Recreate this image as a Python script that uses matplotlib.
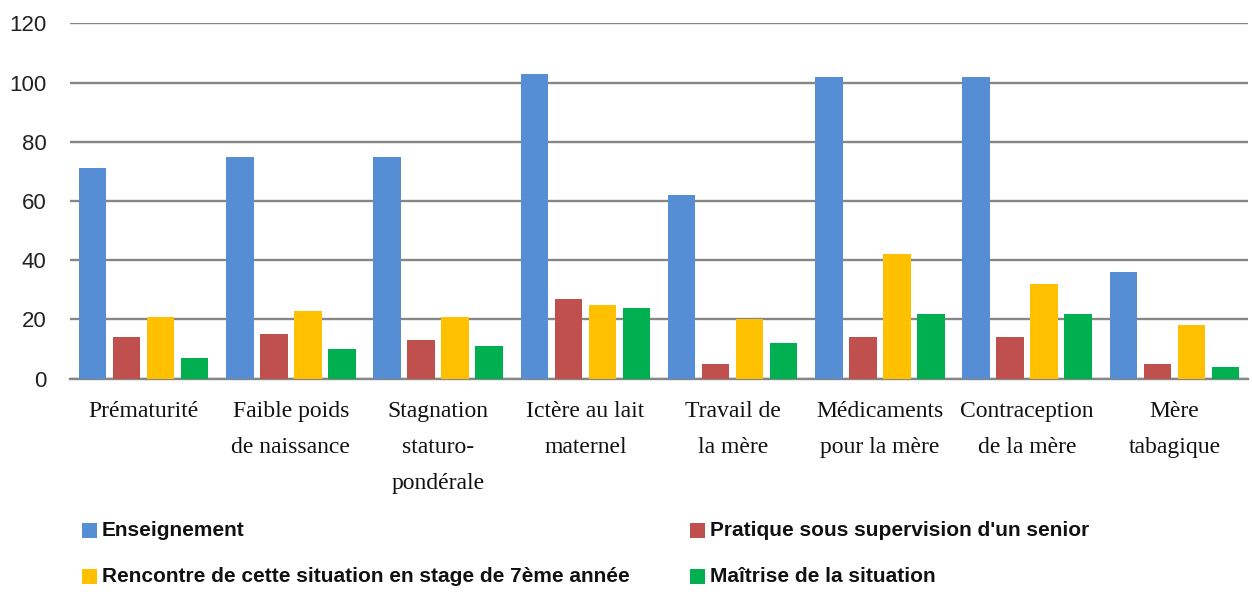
import matplotlib
matplotlib.use("Agg")
import matplotlib.pyplot as plt
import numpy as np
from matplotlib.patches import Rectangle

categories = ["Prématurité", "Faible poids\nde naissance", "Stagnation\nstaturo-\npondérale",
              "Ictère au lait\nmaternel", "Travail de\nla mère", "Médicaments\npour la mère",
              "Contraception\nde la mère", "Mère\ntabagique"]
series_names = ["Enseignement", "Pratique sous supervision d'un senior",
                "Rencontre de cette situation en stage de 7ème année", "Maîtrise de la situation"]
enseignement = [71, 75, 75, 103, 62, 102, 102, 36]
pratique = [14, 15, 13, 27, 5, 14, 14, 5]
rencontre = [21, 23, 21, 25, 20, 42, 32, 18]
maitrise = [7, 10, 11, 24, 12, 22, 22, 4]
yticks = [0, 20, 40, 60, 80, 100, 120]

colors = ["#558ED5", "#C0504D", "#FFC000", "#00B050"]
values = [enseignement, pratique, rencontre, maitrise]

W, H = 1252, 592
fig = plt.figure(figsize=(W / 100, H / 100), dpi=100)
ax = fig.add_axes([70 / W, 1 - 378.7 / H, (1248 - 70) / W, (378.7 - 23.3) / H])

x = np.arange(len(categories))
step = 0.231
width = 0.187
for i, (vals, c) in enumerate(zip(values, colors)):
    ax.bar(x + (i - 1.5) * step, vals, width=width, color=c, zorder=3)

ax.set_xlim(-0.5, len(categories) - 0.5)
ax.set_ylim(0, 120)
ax.set_yticks(yticks)
ax.set_yticklabels([str(t) for t in yticks], fontsize=16, family="Liberation Sans", color="#222222")
ax.tick_params(axis="y", length=0, pad=17)
ax.tick_params(axis="x", length=0, pad=16)
ax.yaxis.grid(True, color="#868686", linewidth=1.7, zorder=0)
ax.set_axisbelow(True)
for s in ["top", "right", "left"]:
    ax.spines[s].set_visible(False)
ax.spines["bottom"].set_color("#868686")
ax.spines["bottom"].set_linewidth(1.7)
ax.set_xticks(x)
ax.set_xticklabels(categories, fontsize=17, family="Liberation Serif", linespacing=1.95,
                   va="top", color="#111111")

# legend (manual 2x2 layout)
leg_items = [(0, 82, 530), (1, 690, 530), (2, 82, 576), (3, 690, 576)]
fs = 15
for idx, px, py in leg_items:
    fig.patches.append(Rectangle((px / W, 1 - (py + 7.5) / H), 15 / W, 15 / H,
                                 transform=fig.transFigure, facecolor=colors[idx],
                                 edgecolor="none"))
    fig.text((px + 20) / W, 1 - py / H, series_names[idx], fontsize=fs, fontweight="bold",
             family="Liberation Sans", va="center", ha="left", color="#111111")

fig.savefig("out.png", dpi=100, facecolor="white")
